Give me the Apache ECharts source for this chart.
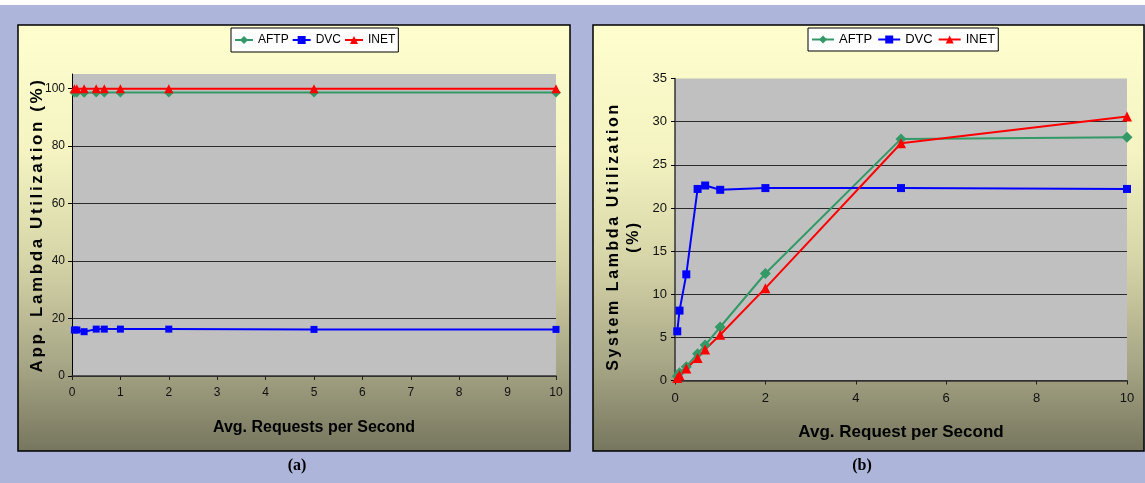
<!DOCTYPE html>
<html>
<head>
<meta charset="utf-8">
<script src="https://cdn.jsdelivr.net/npm/echarts@6/dist/echarts.min.js"></script>
<style>
  html, body { margin: 0; padding: 0; background: #adb5da; }
  #chart { width: 1145px; height: 483px; }
</style>
</head>
<body>
<div id="chart"></div>
<script>
// ---------------- data ----------------
const seriesNames = ['AFTP', 'DVC', 'INET'];
const xRequests = [0.05, 0.1, 0.25, 0.5, 0.667, 1, 2, 5, 10];

// (a) App. Lambda Utilization (%)
const appAFTP = [98.6, 98.6, 98.5, 98.6, 98.6, 98.6, 98.6, 98.6, 98.6];
const appDVC  = [16.0, 16.0, 15.4, 16.3, 16.3, 16.3, 16.3, 16.2, 16.2];
const appINET = [99.9, 99.9, 99.9, 99.9, 99.9, 99.9, 99.9, 99.9, 99.9];

// (b) System Lambda Utilization (%)
const sysAFTP = [0.5, 0.9, 1.6, 3.1, 4.1, 6.2, 12.4, 28.0, 28.2];
const sysDVC  = [5.7, 8.1, 12.3, 22.2, 22.6, 22.1, 22.3, 22.3, 22.2];
const sysINET = [0.3, 0.6, 1.4, 2.6, 3.6, 5.3, 10.7, 27.5, 30.6];

const yTicksA = [0, 20, 40, 60, 80, 100];

const titleAY = 'App. Lambda Utilization (%)';
const titleAX = 'Avg. Requests per Second';
const titleBY1 = 'System Lambda Utilization';
const titleBY2 = '(%)';
const titleBX = 'Avg. Request per Second';

// letter-spaced y-axis titles (as in the original)
(function () {
  const spaced = { [titleAY]: '2.6px', [titleBY1]: '2.6px', [titleBY2]: '2.5px' };
  const orig = CanvasRenderingContext2D.prototype.fillText;
  CanvasRenderingContext2D.prototype.fillText = function (t, x, y, m) {
    if (Object.prototype.hasOwnProperty.call(spaced, t) && 'letterSpacing' in this) {
      this.save();
      const f = this.font;
      this.letterSpacing = spaced[t];
      this.font = f;
      const r = orig.call(this, t, x, y);
      this.restore();
      return r;
    }
    return orig.apply(this, arguments);
  };
})();

const colors = { AFTP: '#339966', DVC: '#0000ff', INET: '#ff0000' };
const symbols = { AFTP: 'diamond', DVC: 'rect', INET: 'triangle' };

const pair = arr => xRequests.map((x, i) => [x, arr[i]]);

const sans = '"Liberation Sans", Arial, sans-serif';

function mkSeries(name, arr, idx, sizes) {
  return {
    name: name,
    type: 'line',
    xAxisIndex: idx,
    yAxisIndex: idx,
    data: pair(arr),
    symbol: symbols[name],
    symbolSize: sizes[name],
    showAllSymbol: true,
    lineStyle: { color: colors[name], width: 2 },
    itemStyle: { color: colors[name] },
    emphasis: { disabled: true },
    z: 3
  };
}

const sizesA = { AFTP: 10, DVC: 7, INET: 9 };
const sizesB = { AFTP: 11, DVC: 8, INET: 10 };

const panelGradient = {
  type: 'linear', x: 0, y: 0, x2: 0, y2: 1,
  colorStops: [
    { offset: 0, color: '#fefecf' },
    { offset: 0.3, color: '#f4f3c1' },
    { offset: 0.55, color: '#d6d5a8' },
    { offset: 0.8, color: '#a6a585' },
    { offset: 1, color: '#76765e' }
  ]
};

const legendCommon = {
  orient: 'horizontal',
  backgroundColor: '#ffffff',
  borderColor: '#000000',
  borderWidth: 1,
  borderRadius: 0,
  itemHeight: 10,
  selectedMode: false,
  data: seriesNames
};

const axisLabelStyle = { color: '#111', fontFamily: sans, fontSize: 12 };

const option = {
  animation: false,
  graphic: [
    { type: 'rect', silent: true, z: -100, shape: { x: 0, y: 0, width: 1145, height: 5 }, style: { fill: '#ffffff' } },
    { type: 'rect', silent: true, z: -100, shape: { x: 18, y: 25, width: 552, height: 426 },
      style: { fill: panelGradient, stroke: '#000', lineWidth: 1.5 } },
    { type: 'rect', silent: true, z: -100, shape: { x: 593, y: 25, width: 551, height: 426 },
      style: { fill: panelGradient, stroke: '#000', lineWidth: 1.5 } },
    { type: 'text', silent: true, z: 10, x: 297, y: 466,
      style: { text: '(a)', fill: '#000', font: 'bold 16px "Liberation Serif", "Times New Roman", serif', align: 'center', verticalAlign: 'middle' } },
    { type: 'text', silent: true, z: 10, x: 862, y: 466,
      style: { text: '(b)', fill: '#000', font: 'bold 16px "Liberation Serif", "Times New Roman", serif', align: 'center', verticalAlign: 'middle' } }
  ],
  legend: [
    Object.assign({}, legendCommon, {
      left: 231, top: 28, padding: [6, 3],
      itemWidth: 18, itemGap: 3,
      textStyle: { fontFamily: sans, fontSize: 12, color: '#000' }
    }),
    Object.assign({}, legendCommon, {
      left: 808, top: 28, padding: [5, 3],
      itemWidth: 22, itemGap: 5,
      textStyle: { fontFamily: sans, fontSize: 13, color: '#000' }
    })
  ],
  grid: [
    { left: 72, right: 589, top: 74, bottom: 107, show: true, backgroundColor: '#c0c0c0', borderWidth: 0 },
    { left: 675, right: 18, top: 78.5, bottom: 102.5, show: true, backgroundColor: '#c0c0c0', borderWidth: 0 }
  ],
  xAxis: [
    {
      type: 'value', gridIndex: 0, min: 0, max: 10, interval: 1,
      name: titleAX, nameLocation: 'middle', nameGap: 44,
      nameTextStyle: { fontFamily: sans, fontWeight: 'bold', fontSize: 16, color: '#000' },
      axisLine: { show: true, onZero: false, lineStyle: { color: '#333', width: 1.5 } },
      axisTick: { show: true, inside: false, length: 4, lineStyle: { color: '#222' } },
      axisLabel: Object.assign({ margin: 11 }, axisLabelStyle),
      splitLine: { show: false }
    },
    {
      type: 'value', gridIndex: 1, min: 0, max: 10, interval: 2,
      name: titleBX, nameLocation: 'middle', nameGap: 43,
      nameTextStyle: { fontFamily: sans, fontWeight: 'bold', fontSize: 17, color: '#000' },
      axisLine: { show: true, onZero: false, lineStyle: { color: '#333', width: 1.5 } },
      axisTick: { show: true, inside: false, length: 4, lineStyle: { color: '#222' } },
      axisLabel: Object.assign({ margin: 11 }, axisLabelStyle, { fontSize: 13 }),
      splitLine: { show: false }
    }
  ],
  yAxis: [
    {
      type: 'value', gridIndex: 0, min: 0, max: 105, interval: 20,
      name: titleAY, nameLocation: 'middle', nameGap: 26, nameMoveOverlap: false,
      nameTextStyle: { fontFamily: sans, fontWeight: 'bold', fontSize: 17, color: '#000' },
      axisLine: { show: true, onZero: false, lineStyle: { color: '#000', width: 1 } },
      axisTick: { show: true, inside: false, length: 4, lineStyle: { color: '#000' },
        customValues: yTicksA },
      axisLabel: Object.assign({ margin: 7, customValues: yTicksA,
        formatter: v => (v > 100 ? '' : String(v)) }, axisLabelStyle),
      splitLine: { show: true, showMaxLine: false, lineStyle: { color: '#2a2a2a', width: 1 } }
    },
    {
      type: 'value', gridIndex: 1, min: 0, max: 35, interval: 5,
      name: titleBY1 + '\n' + titleBY2, nameLocation: 'middle', nameGap: 31,
      nameTextStyle: { fontFamily: sans, fontWeight: 'bold', fontSize: 16, color: '#000', lineHeight: 20,
        padding: [0, 0, 0, -14] },
      axisLine: { show: true, onZero: false, lineStyle: { color: '#333', width: 1.5 } },
      axisTick: { show: true, inside: false, length: 4, lineStyle: { color: '#000' } },
      axisLabel: Object.assign({ margin: 8 }, axisLabelStyle, { fontSize: 13 }),
      splitLine: { show: true, showMaxLine: false, lineStyle: { color: '#2a2a2a', width: 1 } }
    }
  ],
  series: [
    mkSeries('AFTP', appAFTP, 0, sizesA),
    mkSeries('DVC', appDVC, 0, sizesA),
    mkSeries('INET', appINET, 0, sizesA),
    mkSeries('AFTP', sysAFTP, 1, sizesB),
    mkSeries('DVC', sysDVC, 1, sizesB),
    mkSeries('INET', sysINET, 1, sizesB)
  ]
};

const chart = echarts.init(document.getElementById('chart'), null, { renderer: 'canvas' });
chart.setOption(option);
</script>
</body>
</html>
